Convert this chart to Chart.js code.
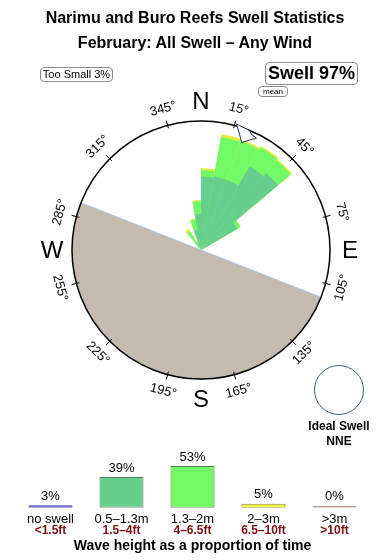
<!DOCTYPE html>
<html>
<head>
<meta charset="utf-8">
<title>Narimu and Buro Reefs Swell Statistics</title>
<script src="https://cdn.jsdelivr.net/npm/chart.js@4.4.1/dist/chart.umd.min.js"></script>
<style>
    html, body { margin: 0; padding: 0; background: #fff; }
    body {
        width: 390px; height: 560px; position: relative; overflow: hidden;
        font-family: "Liberation Sans", Arial, sans-serif; color: #000;
    }
    canvas { position: absolute; left: 0; }
    #roseChart { top: 0; }
    #heightChart { top: 440px; }
    .title { position: absolute; left: 0; width: 390px; text-align: center; font-weight: bold; font-size: 16px; line-height: 18px; }
    .tag {
        position: absolute; box-sizing: border-box; text-align: center; background: #fff;
        border: 1px solid #8c8c8c; border-radius: 4px; white-space: nowrap;
    }
    #tooSmall { left: 40px; top: 67px; width: 73px; height: 15px; font-size: 11px; line-height: 13px; }
    #swellShare { left: 265px; top: 62px; width: 93px; height: 23px; font-size: 18px; font-weight: bold; line-height: 21px; }
    #meanTag { left: 258px; top: 86px; width: 30px; height: 11px; font-size: 8px; line-height: 9px; }
    #idealRing {
        position: absolute; left: 314px; top: 365px; width: 50px; height: 50px;
        box-sizing: border-box; border: 1px solid #3a5f85; border-radius: 50%;
    }
    #idealText { position: absolute; left: 289px; top: 419px; width: 100px; text-align: center; font-weight: bold; font-size: 12px; line-height: 15px; }
</style>
</head>
<body>
<canvas id="roseChart" width="390" height="440"></canvas>
<canvas id="heightChart" width="390" height="120"></canvas>

<div class="title" style="top:9px">Narimu and Buro Reefs Swell Statistics</div>
<div class="title" style="top:34px">February: All Swell – Any Wind</div>
<div class="tag" id="tooSmall">Too Small 3%</div>
<div class="tag" id="swellShare">Swell 97%</div>
<div class="tag" id="meanTag">mean</div>
<div id="idealRing"></div>
<div id="idealText">Ideal Swell<br>NNE</div>

<script>
// Swell rose - Narimu and Buro Reefs, February

// Direction bins (start bearing, degrees), 10 degree wide
const binStart = [0, 10, 20, 30, 40, 50, 60, 70, 80, 90, 100, 110, 120, 130, 140, 150, 160, 170,
                  180, 190, 200, 210, 220, 230, 240, 250, 260, 270, 280, 290, 300, 310, 320, 330, 340, 350];

// Share of time per bin for each wave height band (radial units, rim = 10)
const swellSmall = [5.7, 5.8, 5.8, 7.5, 7.8, 3.25, 0, 0, 0, 0, 0, 0, 0, 0, 0, 0, 0, 0,
                    0, 0, 0, 0, 0, 0, 0, 0, 0, 0, 0, 0, 0, 0, 0.7, 0.5, 1.6, 2.8];
const swellMid   = [0.5, 3.1, 3.2, 1.7, 1.3, 0.3, 0, 0, 0, 0, 0, 0, 0, 0, 0, 0, 0, 0,
                    0, 0, 0, 0, 0, 0, 0, 0, 0, 0, 0, 0, 0, 0, 1.0, 0.2, 0.8, 1.0];
const swellBig   = [0.15, 0.22, 0.12, 0.12, 0.12, 0, 0, 0, 0, 0, 0, 0, 0, 0, 0, 0, 0, 0,
                    0, 0, 0, 0, 0, 0, 0, 0, 0, 0, 0, 0, 0, 0, 0.2, 0, 0.08, 0.08];

// Land sector (bearings) and mean swell direction
const landFrom = 111.5;
const landTo = 291.5;
const meanDirection = 20;

// Rim labels
const degreeTicks = [15, 45, 75, 105, 135, 165, 195, 225, 255, 285, 315, 345];
const compassNames = ['N', 'E', 'S', 'W'];
const compassBearings = [0, 90, 180, 270];

// Height legend
const heightMetric = ['no swell', '0.5–1.3m', '1.3–2m', '2–3m', '>3m'];
const heightFeet = ['<1.5ft', '1.5–4ft', '4–6.5ft', '6.5–10ft', '>10ft'];
const heightShare = [3, 39, 53, 5, 0];

const RIM = 10;
const FONT = '"Liberation Sans", Arial, sans-serif';

document.addEventListener('DOMContentLoaded', function() {
    Chart.defaults.font.family = FONT;
    drawRose();
    drawHeightBars();
});

// bearing (deg) + distance -> canvas point
function polarPoint(scale, bearing, dist) {
    const a = bearing * Math.PI / 180;
    return [scale.xCenter + dist * Math.sin(a), scale.yCenter - dist * Math.cos(a)];
}

const roseDecor = {
    id: 'roseDecor',
    afterDraw(chart) {
        const scale = chart.scales.r;
        const ctx = chart.ctx;
        const rim = scale.drawingArea;
        ctx.save();

        // mean direction arrow
        const arrow = [[rim + 2, -4.3], [rim - 6, -1.9], [rim - 14, 0.7], [rim - 4, 6.4], [rim - 3, 3.7], [rim, 2]];
        ctx.beginPath();
        arrow.forEach((p, i) => {
            const [x, y] = polarPoint(scale, meanDirection + p[1], p[0]);
            if (i === 0) ctx.moveTo(x, y); else ctx.lineTo(x, y);
        });
        ctx.closePath();
        ctx.fillStyle = '#fff';
        ctx.fill();
        ctx.strokeStyle = '#1d3557';
        ctx.lineWidth = 1;
        ctx.stroke();

        // degree ticks + labels
        ctx.strokeStyle = '#000';
        ctx.fillStyle = '#000';
        ctx.textAlign = 'center';
        ctx.textBaseline = 'middle';
        ctx.font = '13px ' + FONT;
        degreeTicks.forEach(b => {
            const [x1, y1] = polarPoint(scale, b, rim - 3);
            const [x2, y2] = polarPoint(scale, b, rim + 5);
            ctx.beginPath();
            ctx.moveTo(x1, y1);
            ctx.lineTo(x2, y2);
            ctx.stroke();

            const [tx, ty] = polarPoint(scale, b, rim + 17);
            const rot = (b > 90 && b < 270) ? b - 180 : b;
            ctx.save();
            ctx.translate(tx, ty);
            ctx.rotate(rot * Math.PI / 180);
            ctx.fillText(b + '°', 0, 0);
            ctx.restore();
        });

        // compass letters
        ctx.font = '24px ' + FONT;
        compassNames.forEach((name, i) => {
            const [x, y] = polarPoint(scale, compassBearings[i], rim + 20);
            ctx.fillText(name, x, y + 1);
        });
        ctx.restore();
    }
};

function drawRose() {
    // stack the height bands outward
    const outerMid = swellSmall.map((v, i) => v + swellMid[i]);
    const outerBig = outerMid.map((v, i) => v + swellBig[i]);
    const landAngles = [landFrom, landTo - landFrom, 360 - landTo];

    new Chart(document.getElementById('roseChart'), {
        type: 'polarArea',
        data: {
            labels: binStart.map(d => d + '°'),
            datasets: [
                { label: '0.5–1.3m', data: swellSmall, backgroundColor: '#66cf8e', borderWidth: 0 },
                { label: '1.3–2m', data: outerMid, backgroundColor: '#72fa66', borderWidth: 0 },
                { label: '2–3m', data: outerBig, backgroundColor: '#ecec3a', borderWidth: 0 },
                {
                    label: 'land',
                    data: [0, RIM, 0],
                    angle: ctx => landAngles[ctx.dataIndex],
                    backgroundColor: '#c5baae',
                    borderColor: '#a9c9e8',
                    borderWidth: [0, 1, 0]
                }
            ]
        },
        options: {
            responsive: false,
            animation: false,
            layout: { padding: { left: 72, right: 60, top: 121, bottom: 61 } },
            plugins: { legend: { display: false }, tooltip: { enabled: false } },
            scales: {
                r: {
                    min: 0,
                    max: RIM,
                    startAngle: 0,
                    ticks: { display: false, stepSize: RIM, z: 1 },
                    grid: { circular: true, color: '#000', lineWidth: 1.5, z: 1 },
                    angleLines: { display: false },
                    pointLabels: { display: false }
                }
            }
        },
        plugins: [roseDecor]
    });
}

// percentages above the bars, feet ranges under the metric labels
const shareLabels = {
    id: 'shareLabels',
    afterDraw(chart) {
        const ctx = chart.ctx;
        const meta = chart.getDatasetMeta(0);
        const xScale = chart.scales.x;
        ctx.save();
        ctx.textAlign = 'center';
        ctx.textBaseline = 'middle';
        ctx.font = '13px ' + FONT;
        ctx.fillStyle = '#000';
        meta.data.forEach((bar, i) => {
            ctx.fillText(heightShare[i] + '%', bar.x, bar.y - 9);
        });
        ctx.font = 'bold 12px ' + FONT;
        ctx.fillStyle = '#7b1113';
        heightFeet.forEach((label, i) => {
            ctx.fillText(label, xScale.getPixelForTick(i), chart.chartArea.bottom + 22.5);
        });
        ctx.restore();
    }
};

function drawHeightBars() {
    new Chart(document.getElementById('heightChart'), {
        type: 'bar',
        data: {
            labels: heightMetric,
            datasets: [{
                data: heightShare,
                backgroundColor: ['#4a4ac8', '#66cf8e', '#72fa66', '#f2f23a', '#c9b9af'],
                borderColor: ['#3c3cae', '#557a60', '#4f7a4c', '#8c8c22', '#b4a49a'],
                borderWidth: 1,
                borderSkipped: false,
                barPercentage: 0.62,
                categoryPercentage: 1,
                minBarLength: 2
            }]
        },
        options: {
            responsive: false,
            animation: false,
            layout: { padding: { left: 15, right: 20, top: 20.5, bottom: 5.6 } },
            plugins: { legend: { display: false }, tooltip: { enabled: false } },
            scales: {
                y: { display: false, min: 0, max: 60 },
                x: {
                    grid: { display: false, drawTicks: false },
                    border: { display: false },
                    ticks: { color: '#000', font: { size: 13 }, padding: 3.5, autoSkip: false, maxRotation: 0 },
                    title: {
                        display: true,
                        text: 'Wave height as a proportion of time',
                        color: '#000',
                        font: { size: 14, weight: 'bold' },
                        padding: { top: 7.3, bottom: 0 }
                    }
                }
            }
        },
        plugins: [shareLabels]
    });
}
</script>
</body>
</html>
